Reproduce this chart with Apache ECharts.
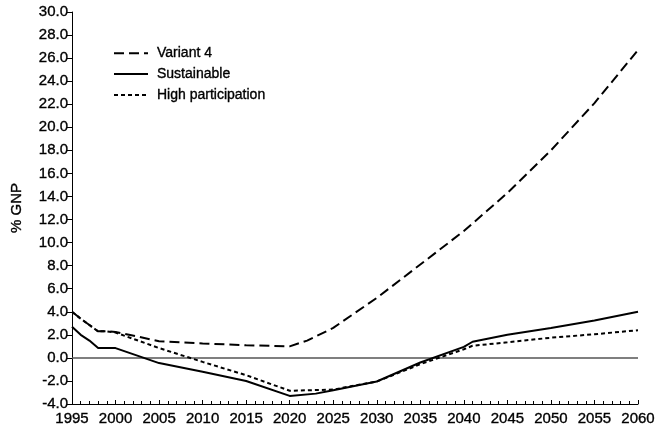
<!DOCTYPE html>
<html>
<head>
<meta charset="utf-8">
<script src="https://cdn.jsdelivr.net/npm/echarts@6/dist/echarts.min.js"></script>
<style>
  html, body { margin: 0; padding: 0; background: #fff; }
  #chart { width: 658px; height: 429px; }
</style>
</head>
<body>
<div id="chart"></div>
<script>
// Net position as % of GNP under three scenarios, 1995-2060
const variant4Years = [1995, 1996, 1997, 1998, 1999, 2000, 2005, 2010, 2015, 2020, 2022, 2025, 2030, 2035, 2040, 2045, 2050, 2055, 2060];
const variant4Values = [4.0, 3.4, 2.85, 2.3, 2.3, 2.25, 1.45, 1.25, 1.1, 1.0, 1.5, 2.6, 5.2, 8.1, 11.0, 14.3, 18.0, 22.1, 26.7];

const sustainableYears = [1995, 1996, 1997, 1998, 2000, 2005, 2010, 2015, 2020, 2023, 2025, 2030, 2035, 2040, 2041, 2045, 2050, 2055, 2060];
const sustainableValues = [2.7, 2.0, 1.5, 0.85, 0.85, -0.45, -1.2, -2.0, -3.3, -3.1, -2.8, -2.05, -0.4, 0.95, 1.4, 2.0, 2.6, 3.25, 4.0];

const highPartYears = [1995, 1996, 1997, 1998, 1999, 2000, 2005, 2010, 2015, 2020, 2025, 2030, 2035, 2040, 2041, 2045, 2050, 2055, 2060];
const highPartValues = [4.0, 3.4, 2.85, 2.3, 2.3, 2.2, 0.85, -0.35, -1.5, -2.85, -2.75, -2.05, -0.55, 0.75, 1.05, 1.35, 1.75, 2.05, 2.4];

const seriesNames = ['Variant 4', 'Sustainable', 'High participation'];
const yAxisTitle = '% GNP';

const pairs = (xs, ys) => xs.map((x, i) => [x, ys[i]]);
const FONT = '"Liberation Sans", Arial, Helvetica, sans-serif';
// a thin outline gives the labels the heavier printed weight
const ink = { color: '#000', textBorderColor: '#000', textBorderWidth: 0.35 };

const chart = echarts.init(document.getElementById('chart'), null, { renderer: 'canvas' });

chart.setOption({
  animation: false,
  backgroundColor: '#ffffff',
  textStyle: { fontFamily: FONT, color: '#000' },
  grid: { left: 72, right: 20, top: 12, bottom: 25, containLabel: false },
  legend: {
    orient: 'vertical',
    left: 108,
    top: 41,
    itemWidth: 34,
    itemHeight: 14,
    itemGap: 6.5,
    itemStyle: { opacity: 0 },
    textStyle: Object.assign({ fontFamily: FONT, fontSize: 14, padding: [0, 0, 0, 4] }, ink),
    data: seriesNames
  },
  xAxis: {
    type: 'value',
    min: 1995,
    max: 2060,
    interval: 5,
    axisLine: { onZero: false, lineStyle: { color: '#000', width: 1 } },
    axisTick: { inside: true, length: 4, lineStyle: { color: '#000' } },
    minorTick: { show: true, splitNumber: 5, length: 3, lineStyle: { color: '#000' } },
    splitLine: { show: false },
    axisLabel: Object.assign({ fontFamily: FONT, fontSize: 15, margin: 7, formatter: v => String(v) }, ink)
  },
  yAxis: {
    type: 'value',
    min: -4,
    max: 30,
    interval: 2,
    name: yAxisTitle,
    nameLocation: 'middle',
    nameRotate: 90,
    nameGap: 48,
    nameTextStyle: Object.assign({ fontFamily: FONT, fontSize: 15 }, ink),
    axisLine: { show: true, lineStyle: { color: '#000', width: 1 } },
    axisTick: { show: true, inside: false, length: 5, lineStyle: { color: '#000' } },
    splitLine: { show: false },
    axisLabel: Object.assign({ fontFamily: FONT, fontSize: 15, margin: 4, formatter: v => v.toFixed(1) }, ink)
  },
  series: [
    {
      name: seriesNames[0],
      type: 'line',
      data: pairs(variant4Years, variant4Values),
      showSymbol: false,
      symbol: 'none',
      smooth: false,
      lineStyle: { color: '#000', width: 2, type: [10, 5] },
      itemStyle: { color: '#000' },
      z: 3
    },
    {
      name: seriesNames[1],
      type: 'line',
      data: pairs(sustainableYears, sustainableValues),
      showSymbol: false,
      symbol: 'none',
      smooth: false,
      lineStyle: { color: '#000', width: 2, type: 'solid' },
      itemStyle: { color: '#000' },
      z: 3,
      markLine: {
        silent: true,
        symbol: 'none',
        label: { show: false },
        lineStyle: { color: '#555', width: 1.5, type: 'solid' },
        data: [{ yAxis: 0 }],
        z: 1
      }
    },
    {
      name: seriesNames[2],
      type: 'line',
      data: pairs(highPartYears, highPartValues),
      showSymbol: false,
      symbol: 'none',
      smooth: false,
      lineStyle: { color: '#000', width: 2, type: [4, 3] },
      itemStyle: { color: '#000' },
      z: 3
    }
  ]
});
</script>
</body>
</html>
